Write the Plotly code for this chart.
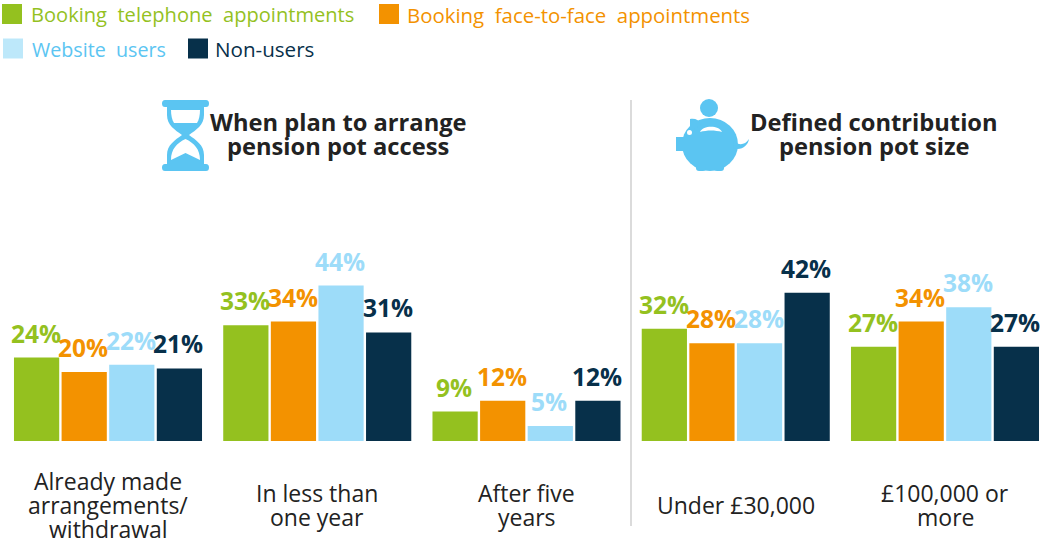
import plotly.graph_objects as go

categories = ["Already made arrangements/ withdrawal", "In less than one year", "After five years",
              "Under £30,000", "£100,000 or more"]
category_lines = [["Already made", "arrangements/", "withdrawal"], ["In less than", "one year"],
                  ["After five", "years"], ["Under £30,000"], ["£100,000 or", "more"]]
telephone = [24, 33, 9, 32, 27]
face_to_face = [20, 34, 12, 28, 34]
website = [22, 44, 5, 28, 38]
non_users = [21, 31, 12, 42, 27]
series_names = ["Booking telephone appointments", "Booking face-to-face appointments", "Website users", "Non-users"]
series_values = [telephone, face_to_face, website, non_users]
colors = ["#94C11F", "#F39200", "#9DDCF9", "#07304A"]

FONT = "Open Sans"
W, H = 1040, 541
BLUE = "#5BC5F2"
BASELINE_PX = 441
AXIS_START = 0.83   # the reference's value axis does not start at zero
PX_PER_UNIT = 3.6
CAT_PITCH = 209.25
FIRST_CENTER = 108.0
BAR_PITCH = 47.5

fig = go.Figure()
for name, vals, col in zip(series_names, series_values, colors):
    fig.add_trace(go.Bar(x=categories, y=vals, name=name, marker=dict(color=col, line=dict(width=0)),
                         showlegend=False, hoverinfo="skip"))

annotations = []
def txt(x, y, s, color="#222222", size=22, bold=False, anchor="center", xref="x2"):
    annotations.append(dict(x=x, y=y, xref=xref, yref="y2", text=f"<b>{s}</b>" if bold else s,
                            showarrow=False, xanchor=anchor, yanchor="middle",
                            font=dict(family=FONT, size=size, color=color)))

# Value labels, tied to each bar's value on the data axis
for j, (vals, col) in enumerate(zip(series_values, colors)):
    for cat, v in zip(categories, vals):
        annotations.append(dict(x=cat, y=v, xref="x", yref="y", text=f"<b>{v}%</b>", showarrow=False,
                                xanchor="center", yanchor="middle", xshift=(j - 1.5) * BAR_PITCH - 1, yshift=24.5,
                                font=dict(family=FONT, size=24.5, color=col)))

# Category labels, vertically centred on a common line
for i, lines in enumerate(category_lines):
    n = len(lines)
    for j, line in enumerate(lines):
        txt(categories[i], 505 + (j - (n - 1) / 2) * 24, line, color="#222222", size=23, xref="x")

# Panel titles
txt(338, 122, "When plan to arrange", size=23.7, bold=True)
txt(338, 146, "pension pot access", size=23.7, bold=True)
txt(874, 122, "Defined contribution", size=23.7, bold=True)
txt(874, 146, "pension pot size", size=23.7, bold=True)

# Legend
legend_items = [(2, 14, 29, 14.5, "Booking  telephone  appointments", "#94C11F", "#94C11F", 20.1),
                (379, 14, 405, 14.5, "Booking  face-to-face  appointments", "#F39200", "#F39200", 20.4),
                (3, 48.5, 30, 49, "Website  users", "#BDE8FA", BLUE, 19.7),
                (188, 48.5, 213, 49, "Non-users", "#07304A", "#07304A", 20.6)]
shapes = []
def shape(**k):
    shapes.append(dict(xref="x2", yref="y2", layer="above", line=dict(width=0), **k))

for sx, cy, tx, ty, s, sw, tc, sz in legend_items:
    shape(type="rect", x0=sx, x1=sx + 20, y0=cy - 10, y1=cy + 10, fillcolor=sw)
    txt(tx, ty, s, color=tc, size=sz, anchor="left")

# Divider
shapes.append(dict(type="line", xref="x2", yref="y2", x0=631, x1=631, y0=100, y1=526,
                   line=dict(color="#CFCFCF", width=1.5), layer="above"))

# Hourglass icon
shape(type="path", fillcolor=BLUE, path="M165,100 L206,100 Q209,100 209,103.5 Q209,107 206,107 L204,107 L204,115 C204,125 196,130 189,135 C196,140 204,145 204,155 L204,164 L206,164 Q209,164 209,167.5 Q209,171 206,171 L165,171 Q162,171 162,167.5 Q162,164 165,164 L167,164 L167,155 C167,145 175,140 182,135 C175,130 167,125 167,115 L167,107 L165,107 Q162,107 162,103.5 Q162,100 165,100 Z")
shape(type="path", fillcolor="white", path="M171,110 L200,110 C200,115 199,120 197,123 L174,123 C172,120 171,115 171,110 Z")
shape(type="path", fillcolor="white", path="M185.5,139 C194,143 200,149 200,160 L185.5,153 L171,160 C171,149 177,143 185.5,139 Z")

# Piggy bank icon
shape(type="circle", fillcolor=BLUE, x0=700, x1=718, y0=99, y1=117)
shape(type="circle", fillcolor=BLUE, x0=682, x1=738, y0=118, y1=171)
shape(type="path", fillcolor=BLUE, path="M690,119 C695,118 699,120 702,124 L690,132 Z")
shape(type="rect", fillcolor=BLUE, x0=676, x1=692, y0=137, y1=151)
shape(type="path", fillcolor=BLUE, path="M696,160 L706,160 L706,168 Q706,171 703,171 L699,171 Q696,171 696,168 Z")
shape(type="path", fillcolor=BLUE, path="M714,160 L724,160 L724,168 Q724,171 721,171 L717,171 Q714,171 714,168 Z")
shape(type="path", fillcolor=BLUE, path="M734,141 C739,146 745,145 749,139 C748,146 741,151 733,148 Z")
shape(type="path", fillcolor="white", path="M700,132 C703,125 719,125 722,132 C715,130 707,130 700,132 Z")
shape(type="circle", fillcolor="white", x0=687, x1=692, y0=130, y1=135)

fig.update_layout(
    width=W, height=H, margin=dict(l=0, r=0, t=0, b=0), autosize=False,
    paper_bgcolor="white", plot_bgcolor="rgba(0,0,0,0)", barmode="group", bargap=0.09, bargroupgap=0.05,
    font=dict(family=FONT),
    xaxis=dict(type="category", range=[-FIRST_CENTER / CAT_PITCH, (W - FIRST_CENTER) / CAT_PITCH],
               domain=[0, 1], showticklabels=False, showgrid=False, zeroline=False, showline=False, ticks=""),
    yaxis=dict(range=[AXIS_START, AXIS_START + BASELINE_PX / PX_PER_UNIT], domain=[(H - BASELINE_PX) / H, 1],
               showticklabels=False, showgrid=False, zeroline=False, showline=False, ticks=""),
    xaxis2=dict(range=[0, W], domain=[0, 1], anchor="y2", visible=False),
    yaxis2=dict(range=[H, 0], domain=[0, 1], anchor="x2", visible=False),
    annotations=annotations, shapes=shapes,
)
# An invisible trace keeps the pixel-space helper axes active
fig.add_trace(go.Scatter(x=[0], y=[0], xaxis="x2", yaxis="y2", mode="markers",
                         marker=dict(opacity=0), showlegend=False, hoverinfo="skip"))
fig.write_html("out.html", post_script="document.body.style.margin='0';", config=dict(displayModeBar=False))
